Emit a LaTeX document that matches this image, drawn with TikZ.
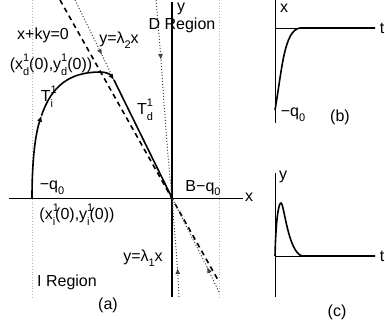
\documentclass[tikz,border=0pt]{standalone}
\usepackage{fontspec}
\setmainfont{Liberation Sans}
\usetikzlibrary{arrows.meta}
\newcommand{\scr}[1]{{\fontsize{11}{11}\selectfont #1}}
\newcommand{\supsub}[2]{\makebox[0pt][l]{\raisebox{0.5em}{\scr{#1}}}\raisebox{-0.4em}{\scr{#2}}}
\newcommand{\sub}[1]{\raisebox{-0.3em}{\scr{#1}}}
\tikzset{
  phax/.style={line width=0.8pt},
  phyax/.style={line width=2pt},
  phtraj/.style={line width=1.6pt},
  phguide/.style={dotted, line width=0.8pt, draw=gray!60},
  phflow/.style={dotted, line width=1pt, draw=black!75},
  phdash/.style={line width=1.6pt, dash pattern=on 5pt off 4pt},
  pharr/.style={-{Latex[length=6pt,width=5pt]}},
  phlab/.style={inner sep=0pt, font=\fontsize{16}{18}\selectfont}
}

\begin{document}
\begin{tikzpicture}[x=1pt, y=-1pt]
  \useasboundingbox (0,0) rectangle (385,323);
  % panel (a)
  \coordinate (o) at (172,198);
  \coordinate (xl) at (9,198);
  \coordinate (xr) at (243,198);
  \coordinate (yt) at (172,2);
  \coordinate (yb) at (172,297);
  \draw[phguide] (32,0) -- (32,297);
  \draw[phguide] (219,0) -- (219,297);
  \draw[phax] (xl) -- (xr);
  \draw[phyax] (yt) -- (yb);
  \coordinate (ktop) at (60,0);
  \coordinate (kbot) at (218,280);
  \draw[phdash] (ktop) -- (kbot);
  \coordinate (l2top) at (75,0);
  \coordinate (l2m) at (102,55);
  \coordinate (tdm) at (114,80);
  \draw[phflow, pharr] (l2top) -- (l2m);
  \draw[phflow] (l2m) -- (tdm);
  \coordinate (l2bot) at (219,292);
  \coordinate (l2bm) at (207,267);
  \draw[phflow, pharr] (l2bot) -- (l2bm);
  \draw[phflow] (l2bm) -- (o);
  \coordinate (ybot) at (179,297);
  \coordinate (ybm) at (177.5,268);
  \draw[phflow, pharr] (ybot) -- (ybm);
  \draw[phflow] (ybm) -- (o);
  \coordinate (dtop) at (156,0);
  \coordinate (dm) at (161,60);
  \draw[phflow, pharr] (dtop) -- (dm);
  \draw[phflow] (dm) .. controls (165,120) and (169,170) .. (o);
  \coordinate (start) at (32,198);
  \coordinate (tim) at (41.5,115.6);
  \coordinate (peak) at (100,72);
  \draw[phtraj, pharr] (start) .. controls (32,162.8) and (34.9,135.6) .. (tim);
  \draw[phtraj] (tim) .. controls (51.5,85.7) and (70,72) .. (peak);
  \draw[phtraj, pharr] (peak) .. controls (106,72) and (110,74) .. (tdm);
  \draw[phtraj] (tdm) -- (o);
  \node[phlab] (kl) at (43,35) {x+ky=0};
  \node[phlab] (l2l) at (119,40) {y=λ\sub{2}x};
  \node[phlab] (dreg) at (182,25) {D Region};
  \node[phlab] (xd0) at (51,65) {(x\supsub{1}{d}(0),y\supsub{1}{d}(0))};
  \node[phlab] (ti) at (47,97) {T\supsub{1}{i}};
  \node[phlab] (td) at (145,110) {T\supsub{1}{d}};
  \node[phlab] (mq) at (52,188) {−q\sub{0}};
  \node[phlab] (bq) at (203,188) {B−q\sub{0}};
  \node[phlab] (xi0) at (77,215) {(x\supsub{1}{i}(0),y\supsub{1}{i}(0))};
  \node[phlab] (l1l) at (143,258) {y=λ\sub{1}x};
  \node[phlab] (ireg) at (67,282) {I Region};
  \node[phlab] (capa) at (108,305) {(a)};
  \node[phlab] (xlab) at (249,197) {x};
  \node[phlab] (ylab) at (181,9) {y};
  % panel (b)
  \coordinate (bo) at (275,28);
  \coordinate (bt) at (275,0);
  \coordinate (bb) at (275,123);
  \coordinate (br) at (375,28);
  \draw[phax] (bt) -- (bb);
  \draw[phax] (bo) -- (br);
  \draw[phtraj] (275,110) .. controls (282,70) and (284,30) .. (300,28) -- (br);
  \node[phlab] (bxl) at (284,8) {x};
  \node[phlab] (btl) at (382,28) {t};
  \node[phlab] (bq0) at (293,115) {−q\sub{0}};
  \node[phlab] (capb) at (340,117) {(b)};
  % panel (c)
  \coordinate (co) at (275,256);
  \coordinate (ct) at (275,173);
  \coordinate (cb) at (275,297);
  \coordinate (cr) at (375,256);
  \draw[phax] (ct) -- (cb);
  \draw[phax] (co) -- (cr);
  \draw[phtraj] (co) .. controls (276,215) and (279,203) .. (281,203)
    .. controls (284,203) and (288,252) .. (302,256) -- (cr);
  \node[phlab] (cyl) at (283,177) {y};
  \node[phlab] (ctl) at (382,256) {t};
  \node[phlab] (capc) at (337,312) {(c)};
\end{tikzpicture}
\end{document}
